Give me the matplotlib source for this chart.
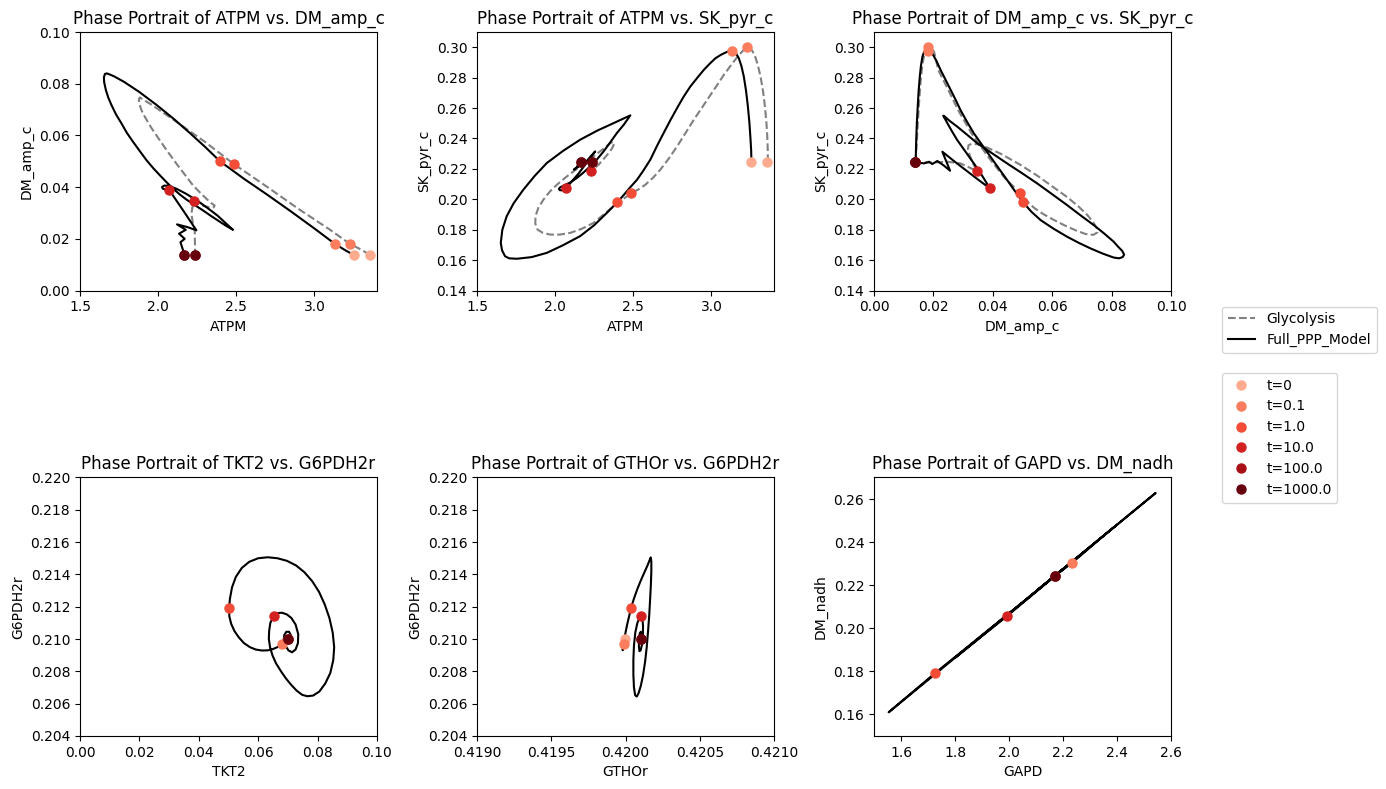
import matplotlib
matplotlib.use("Agg")
import numpy as np
import matplotlib.pyplot as plt
from matplotlib.lines import Line2D

# time points marked on every trajectory
times = [0, 0.1, 1.0, 10.0, 100.0, 1000.0]

# marked values at the time points (Full_PPP_Model)
full_atpm_pts = [3.251, 3.130, 2.396, 2.070, 2.166, 2.166]
full_amp_pts = [0.0138, 0.0181, 0.0500, 0.0390, 0.0138, 0.0138]
full_pyr_pts = [0.2245, 0.2974, 0.1983, 0.2072, 0.2243, 0.2243]
full_tkt2_pts = [0.0699, 0.0679, 0.0503, 0.0652, 0.0699, 0.0699]
full_g6pdh_pts = [0.21003, 0.20968, 0.21191, 0.21141, 0.21003, 0.21003]
full_gthor_pts = [0.419999, 0.419990, 0.420037, 0.420106, 0.420106, 0.420106]
full_gapd_pts = [2.171, 2.233, 1.727, 1.993, 2.171, 2.171]
full_nadh_pts = [0.2241, 0.2303, 0.1793, 0.2057, 0.2241, 0.2241]

# marked values at the time points (Glycolysis)
gly_atpm_pts = [3.355, 3.226, 2.485, 2.227, 2.236, 2.236]
gly_amp_pts = [0.0138, 0.0181, 0.0490, 0.0347, 0.0138, 0.0138]
gly_pyr_pts = [0.2245, 0.3000, 0.2042, 0.2185, 0.2243, 0.2243]

# trajectories, panel 1: ATPM vs DM_amp_c
full_p1_x = [3.251, 3.20, 3.130, 3.00, 2.85, 2.70, 2.55, 2.396, 2.30, 2.20, 2.10, 1.99, 1.88,
             1.78, 1.72, 1.69, 1.672, 1.660, 1.653, 1.655, 1.666, 1.682, 1.702, 1.730, 1.766,
             1.800, 1.840, 1.882, 1.926, 1.968, 2.011, 2.054, 2.096, 2.138, 2.181, 2.234,
             2.287, 2.335, 2.383, 2.430, 2.479, 2.43, 2.38, 2.31, 2.25, 2.18, 2.12, 2.07, 2.04,
             2.025, 2.030, 2.050, 2.070, 2.16, 2.245, 2.19, 2.121, 2.177, 2.134, 2.170, 2.143,
             2.160, 2.166]
full_p1_y = [0.0138, 0.0155, 0.0181, 0.0240, 0.0306, 0.0370, 0.0432, 0.0500, 0.0556, 0.0611,
             0.0664, 0.0718, 0.0768, 0.0808, 0.0828, 0.0836, 0.0840, 0.0838, 0.0825, 0.0805,
             0.0775, 0.0745, 0.0717, 0.0682, 0.0646, 0.0610, 0.0575, 0.0540, 0.0504, 0.0474,
             0.0446, 0.0419, 0.0394, 0.0372, 0.0352, 0.0331, 0.0310, 0.0290, 0.0271, 0.0252,
             0.0235, 0.0262, 0.0290, 0.0322, 0.0348, 0.0374, 0.0393, 0.0405, 0.0406, 0.0401,
             0.0394, 0.0390, 0.0390, 0.0310, 0.0233, 0.0245, 0.0256, 0.0235, 0.0220, 0.0200,
             0.0187, 0.0155, 0.0138]
gly_p1_x = [3.355, 3.30, 3.226, 3.10, 2.90, 2.70, 2.483, 2.30, 2.10, 1.95, 1.900, 1.883, 1.877,
            1.879, 1.893, 1.915, 1.960, 2.011, 2.064, 2.117, 2.170, 2.223, 2.270, 2.309, 2.340,
            2.362, 2.355, 2.340, 2.300, 2.266, 2.226, 2.213, 2.222, 2.234, 2.236, 2.236]
gly_p1_y = [0.0138, 0.0158, 0.0181, 0.0235, 0.0315, 0.0400, 0.0490, 0.0575, 0.0660, 0.0722,
            0.0740, 0.0747, 0.0740, 0.0724, 0.0698, 0.0672, 0.0626, 0.0581, 0.0535, 0.0491,
            0.0449, 0.0407, 0.0378, 0.0355, 0.0338, 0.0329, 0.0322, 0.0320, 0.0326, 0.0333,
            0.0348, 0.0297, 0.0262, 0.0233, 0.0168, 0.0138]

# panel 2: ATPM vs SK_pyr_c
full_p2_x = [3.256, 3.254, 3.250, 3.243, 3.233, 3.221, 3.207, 3.192, 3.175, 3.157, 3.137,
             3.112, 3.090, 3.060, 3.026, 2.990, 2.951, 2.910, 2.865, 2.822, 2.780, 2.737,
             2.694, 2.651, 2.609, 2.565, 2.524, 2.481, 2.440, 2.400, 2.331, 2.25, 2.160,
             2.050, 1.947, 1.850, 1.754, 1.705, 1.679, 1.660, 1.652, 1.662, 1.690, 1.735,
             1.797, 1.870, 1.947, 2.050, 2.160, 2.270, 2.374, 2.481, 2.440, 2.395, 2.352,
             2.310, 2.267, 2.224, 2.180, 2.139, 2.095, 2.053, 2.030, 2.024, 2.030, 2.043,
             2.071, 2.15, 2.256, 2.20, 2.12, 2.19, 2.14, 2.18, 2.167]
full_p2_y = [0.2245, 0.2320, 0.2392, 0.2500, 0.2611, 0.2715, 0.2807, 0.2875, 0.2928, 0.2960,
             0.2974, 0.2975, 0.2965, 0.2950, 0.2928, 0.2893, 0.2851, 0.2800, 0.2742, 0.2675,
             0.2600, 0.2520, 0.2436, 0.2350, 0.2261, 0.2190, 0.2129, 0.2080, 0.2030, 0.1983,
             0.1911, 0.1830, 0.1758, 0.1698, 0.1648, 0.1620, 0.1609, 0.1612, 0.1626, 0.1665,
             0.1714, 0.1800, 0.1889, 0.1975, 0.2064, 0.2155, 0.2239, 0.2318, 0.2392, 0.2452,
             0.2501, 0.2552, 0.2492, 0.2436, 0.2374, 0.2315, 0.2262, 0.2217, 0.2175, 0.2140,
             0.2110, 0.2090, 0.2077, 0.2068, 0.2060, 0.2059, 0.2075, 0.2170, 0.2315, 0.2250,
             0.2195, 0.2255, 0.2215, 0.2250, 0.2243]
gly_p2_x = [3.361, 3.360, 3.357, 3.351, 3.342, 3.330, 3.314, 3.296, 3.276, 3.255, 3.233,
            3.215, 3.197, 3.170, 3.143, 3.112, 3.079, 3.040, 2.994, 2.942, 2.887, 2.834,
            2.780, 2.727, 2.673, 2.625, 2.577, 2.533, 2.489, 2.430, 2.374, 2.310, 2.246,
            2.170, 2.096, 2.030, 1.968, 1.920, 1.887, 1.873, 1.874, 1.893, 1.925, 1.965,
            2.011, 2.062, 2.118, 2.180, 2.246, 2.303, 2.353, 2.372, 2.378, 2.364, 2.342,
            2.310, 2.278, 2.250, 2.229, 2.237]
gly_p2_y = [0.2245, 0.2330, 0.2414, 0.2512, 0.2611, 0.2711, 0.2807, 0.2885, 0.2950, 0.2985,
            0.3000, 0.2990, 0.2972, 0.2942, 0.2906, 0.2864, 0.2818, 0.2757, 0.2687, 0.2607,
            0.2523, 0.2436, 0.2348, 0.2268, 0.2195, 0.2141, 0.2096, 0.2065, 0.2042, 0.1998,
            0.1954, 0.1900, 0.1845, 0.1806, 0.1779, 0.1768, 0.1768, 0.1780, 0.1801, 0.1840,
            0.1889, 0.1945, 0.1998, 0.2050, 0.2096, 0.2140, 0.2184, 0.2233, 0.2282, 0.2328,
            0.2370, 0.2378, 0.2366, 0.2335, 0.2304, 0.2265, 0.2228, 0.2203, 0.2184, 0.2243]

# panel 3: DM_amp_c vs SK_pyr_c
full_p3_x = [0.0140, 0.0141, 0.0142, 0.0144, 0.0147, 0.0150, 0.0154, 0.0158, 0.0163, 0.0168,
             0.0174, 0.0182, 0.0196, 0.0210, 0.0224, 0.0241, 0.0258, 0.0275, 0.0291, 0.0313,
             0.0336, 0.0364, 0.0392, 0.0420, 0.0448, 0.0475, 0.0501, 0.0530, 0.0561, 0.0605,
             0.0650, 0.0690, 0.0729, 0.0770, 0.0807, 0.0825, 0.0837, 0.0842, 0.0836, 0.0822,
             0.0807, 0.0775, 0.0740, 0.0695, 0.0650, 0.0600, 0.0549, 0.0498, 0.0448, 0.0398,
             0.0348, 0.0313, 0.0280, 0.0255, 0.0238, 0.0233, 0.0247, 0.0263, 0.0280, 0.0300,
             0.0320, 0.0340, 0.0359, 0.0375, 0.0390, 0.0350, 0.0310, 0.0270, 0.0230, 0.0243,
             0.0256, 0.0235, 0.0213, 0.0196, 0.0185, 0.0168, 0.0155, 0.0140]
full_p3_y = [0.2243, 0.2320, 0.2390, 0.2500, 0.2609, 0.2710, 0.2807, 0.2880, 0.2939, 0.2968,
             0.2982, 0.2978, 0.2960, 0.2910, 0.2851, 0.2785, 0.2719, 0.2653, 0.2587, 0.2510,
             0.2434, 0.2357, 0.2280, 0.2203, 0.2127, 0.2052, 0.1982, 0.1918, 0.1863, 0.1806,
             0.1754, 0.1713, 0.1677, 0.1643, 0.1617, 0.1612, 0.1620, 0.1636, 0.1660, 0.1688,
             0.1721, 0.1775, 0.1830, 0.1895, 0.1962, 0.2033, 0.2105, 0.2172, 0.2236, 0.2302,
             0.2368, 0.2425, 0.2478, 0.2515, 0.2544, 0.2550, 0.2500, 0.2445, 0.2390, 0.2335,
             0.2280, 0.2225, 0.2171, 0.2120, 0.2072, 0.2130, 0.2190, 0.2250, 0.2313, 0.2250,
             0.2188, 0.2222, 0.2252, 0.2232, 0.2247, 0.2236, 0.2240, 0.2243]
gly_p3_x = [0.0140, 0.0143, 0.0146, 0.0151, 0.0157, 0.0163, 0.0170, 0.0182, 0.0192, 0.0202,
            0.0216, 0.0250, 0.0283, 0.0328, 0.0384, 0.0440, 0.0492, 0.0516, 0.0540, 0.0568,
            0.0600, 0.0640, 0.0680, 0.0712, 0.0738, 0.0752, 0.0750, 0.0738, 0.0718, 0.0690,
            0.0650, 0.0600, 0.0550, 0.0490, 0.0426, 0.0381, 0.0348, 0.0328, 0.0318, 0.0316,
            0.0322, 0.0331, 0.0346, 0.0320, 0.0291, 0.0247, 0.0191, 0.0140]
gly_p3_y = [0.2243, 0.2350, 0.2456, 0.2620, 0.2785, 0.2890, 0.2960, 0.3000, 0.2995, 0.2971,
            0.2851, 0.2719, 0.2587, 0.2434, 0.2280, 0.2140, 0.2041, 0.1985, 0.1942, 0.1905,
            0.1870, 0.1830, 0.1795, 0.1772, 0.1766, 0.1782, 0.1810, 0.1850, 0.1897, 0.1950,
            0.2015, 0.2085, 0.2155, 0.2230, 0.2300, 0.2340, 0.2362, 0.2365, 0.2355, 0.2330,
            0.2290, 0.2245, 0.2186, 0.2210, 0.2236, 0.2247, 0.2241, 0.2243]

# panel 4: TKT2 vs G6PDH2r
full_p4_x = [0.0699, 0.0679, 0.0665, 0.0650, 0.0632, 0.0612, 0.0592, 0.0572, 0.0552, 0.0535,
             0.0520, 0.0509, 0.0503, 0.0502, 0.0505, 0.0512, 0.0525, 0.0545, 0.0570, 0.0600,
             0.0632, 0.0665, 0.0697, 0.0728, 0.0756, 0.0782, 0.0805, 0.0824, 0.0840, 0.0851,
             0.0856, 0.0853, 0.0843, 0.0826, 0.0806, 0.0785, 0.0765, 0.0748, 0.0730, 0.0712,
             0.0694, 0.0677, 0.0660, 0.0648, 0.0640, 0.0636, 0.0637, 0.0641, 0.0652, 0.0665,
             0.0680, 0.0697, 0.0712, 0.0726, 0.0735, 0.0734, 0.0726, 0.0714, 0.0702, 0.0692,
             0.0686, 0.0688, 0.0695, 0.0704, 0.0710, 0.0709, 0.0699]
full_p4_y = [0.21003, 0.20968, 0.20950, 0.20938, 0.20930, 0.20929, 0.20935, 0.20950, 0.20975,
             0.21010, 0.21050, 0.21095, 0.21140, 0.21191, 0.21250, 0.21320, 0.21385, 0.21440,
             0.21478, 0.21500, 0.21506, 0.21500, 0.21484, 0.21455, 0.21413, 0.21358, 0.21292,
             0.21215, 0.21130, 0.21040, 0.20950, 0.20870, 0.20790, 0.20725, 0.20675, 0.20650,
             0.20646, 0.20655, 0.20680, 0.20715, 0.20755, 0.20800, 0.20850, 0.20900, 0.20950,
             0.21000, 0.21050, 0.21100, 0.21141, 0.21160, 0.21163, 0.21152, 0.21130, 0.21090,
             0.21030, 0.20975, 0.20935, 0.20918, 0.20930, 0.20958, 0.20995, 0.21025, 0.21045,
             0.21045, 0.21025, 0.21003, 0.21003]

# panel 5: GTHOr vs G6PDH2r
full_p5_x = [0.419999, 0.419993, 0.419990, 0.419984, 0.419981, 0.419988, 0.419998, 0.420010,
             0.420024, 0.420037, 0.420055, 0.420078, 0.420102, 0.420126, 0.420148, 0.420163,
             0.420170, 0.420174, 0.420174, 0.420171, 0.420166, 0.420160, 0.420152, 0.420143,
             0.420132, 0.420118, 0.420103, 0.420088, 0.420076, 0.420065, 0.420057, 0.420053,
             0.420053, 0.420057, 0.420066, 0.420080, 0.420095, 0.420106, 0.420114, 0.420118,
             0.420117, 0.420111, 0.420102, 0.420094, 0.420090, 0.420091, 0.420096, 0.420103,
             0.420109, 0.420106]
full_p5_y = [0.21001, 0.20985, 0.20968, 0.20945, 0.20931, 0.20975, 0.21030, 0.21085, 0.21140,
             0.21191, 0.21245, 0.21305, 0.21360, 0.21410, 0.21455, 0.21490, 0.21505, 0.21480,
             0.21420, 0.21340, 0.21250, 0.21150, 0.21050, 0.20950, 0.20860, 0.20775, 0.20710,
             0.20665, 0.20644, 0.20652, 0.20700, 0.20780, 0.20870, 0.20960, 0.21040, 0.21100,
             0.21132, 0.21141, 0.21125, 0.21080, 0.21020, 0.20965, 0.20930, 0.20925, 0.20955,
             0.21000, 0.21035, 0.21045, 0.21030, 0.21003]

# panel 6: GAPD vs DM_nadh
full_p6_x = [2.171, 2.233, 2.35, 2.543, 2.30, 1.90, 1.554, 1.727, 2.05, 2.40, 2.15, 1.80,
             1.993, 2.25, 2.10, 2.20, 2.171]
full_p6_y = [0.2245, 0.2303, 0.2429, 0.2628, 0.2378, 0.1966, 0.1610, 0.1793, 0.2120, 0.2481,
             0.2223, 0.1863, 0.2057, 0.2326, 0.2172, 0.2275, 0.2245]

dot_colors = plt.cm.Reds(np.linspace(0.3, 1.0, len(times)))

panels = [
    ("ATPM", "DM_amp_c", (full_p1_x, full_p1_y), (gly_p1_x, gly_p1_y),
     (full_atpm_pts, full_amp_pts), (gly_atpm_pts, gly_amp_pts), (1.5, 3.4), (0.0, 0.1)),
    ("ATPM", "SK_pyr_c", (full_p2_x, full_p2_y), (gly_p2_x, gly_p2_y),
     (full_atpm_pts, full_pyr_pts), (gly_atpm_pts, gly_pyr_pts), (1.5, 3.4), (0.14, 0.31)),
    ("DM_amp_c", "SK_pyr_c", (full_p3_x, full_p3_y), (gly_p3_x, gly_p3_y),
     (full_amp_pts, full_pyr_pts), (gly_amp_pts, gly_pyr_pts), (0.0, 0.1), (0.14, 0.31)),
    ("TKT2", "G6PDH2r", (full_p4_x, full_p4_y), None,
     (full_tkt2_pts, full_g6pdh_pts), None, (0.0, 0.1), (0.204, 0.220)),
    ("GTHOr", "G6PDH2r", (full_p5_x, full_p5_y), None,
     (full_gthor_pts, full_g6pdh_pts), None, (0.419, 0.421), (0.204, 0.220)),
    ("GAPD", "DM_nadh", (full_p6_x, full_p6_y), None,
     (full_gapd_pts, full_nadh_pts), None, (1.5, 2.6), (0.15, 0.27)),
]

fig, axes = plt.subplots(2, 3, figsize=(13.86, 7.89), dpi=100)
plt.subplots_adjust(left=0.0577, right=0.8449, bottom=0.0672, top=0.9594,
                    wspace=0.337, hspace=0.723)

for ax, (xn, yn, full_xy, gly_xy, full_pts, gly_pts, xl, yl) in zip(axes.flat, panels):
    if gly_xy is not None:
        ax.plot(gly_xy[0], gly_xy[1], "--", color="gray", lw=1.5)
    ax.plot(full_xy[0], full_xy[1], "-", color="black", lw=1.5)
    for i in range(len(times)):
        if gly_pts is not None:
            ax.plot(gly_pts[0][i], gly_pts[1][i], "o", color=dot_colors[i], ms=6.5)
        ax.plot(full_pts[0][i], full_pts[1][i], "o", color=dot_colors[i], ms=6.5)
    ax.set_xlim(*xl)
    ax.set_ylim(*yl)
    ax.set_xlabel(xn)
    ax.set_ylabel(yn)
    ax.set_title(f"Phase Portrait of {xn} vs. {yn}")

line_handles = [Line2D([0], [0], ls="--", color="gray", lw=1.5),
                Line2D([0], [0], ls="-", color="black", lw=1.5)]
fig.legend(line_handles, ["Glycolysis", "Full_PPP_Model"], loc="upper left",
           bbox_to_anchor=(0.8817, 0.6115), borderaxespad=0)

dot_handles = [Line2D([0], [0], ls="none", marker="o", color=c, ms=6.5) for c in dot_colors]
fig.legend(dot_handles, [f"t={t}" if t != 0 else "t=0" for t in times], loc="upper left",
           bbox_to_anchor=(0.8817, 0.5273), borderaxespad=0)

fig.savefig("out.png", dpi=100)
